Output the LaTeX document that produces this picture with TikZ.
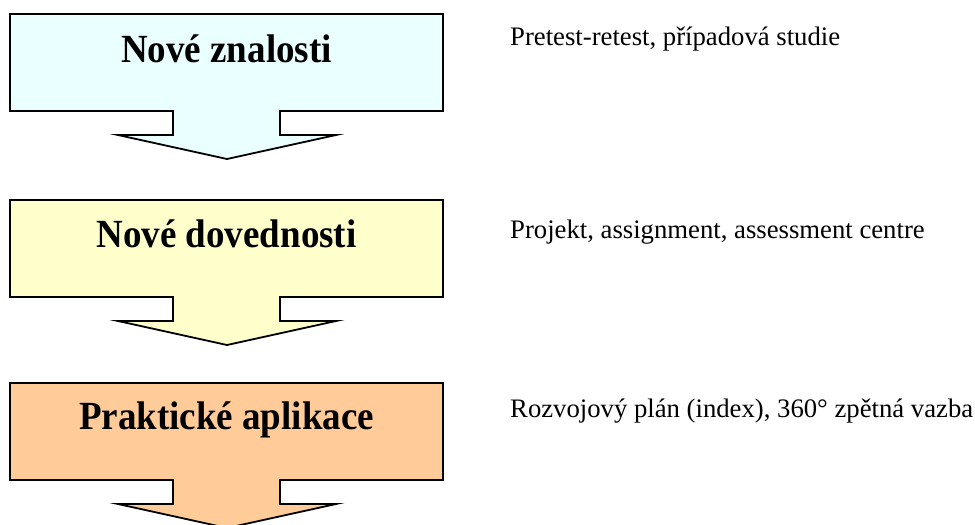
\documentclass[tikz,border=0pt]{standalone}
\usepackage{fontspec}
\setmainfont{Liberation Serif}
\definecolor{cyanfill}{HTML}{EAFFFF}
\definecolor{yellowfill}{HTML}{FFFFCC}
\definecolor{orangefill}{HTML}{FFCC99}
\newcommand{\tallbold}[1]{\scalebox{1}[1.08]{#1}}
\begin{document}
\begin{tikzpicture}[x=1pt,y=-1pt,
  callout/.style={draw=black,line width=1.8pt,line join=miter},
  title/.style={anchor=base,inner sep=0pt,font=\fontsize{37}{40}\selectfont\bfseries},
  note/.style={anchor=base west,inner sep=0pt,font=\fontsize{26.7}{30}\selectfont}]
\useasboundingbox (0,0) rectangle (975,525);
\fill[white] (0,0) rectangle (975,525);
% callout outlines
\foreach \top/\col in {14/cyanfill,200/yellowfill,383/orangefill}{
  \path[callout,fill=\col]
    (10,\top) -- (443,\top) -- (443,\top+97) -- (280,\top+97) -- (280,\top+121)
    -- (336,\top+121) -- (227,\top+145) -- (118,\top+121) -- (173,\top+121)
    -- (173,\top+97) -- (10,\top+97) -- cycle;
}
\node[title] (t1) at (226.5,62) {\tallbold{Nové znalosti}};
\node[title] (t2) at (226.5,247) {\tallbold{Nové dovednosti}};
\node[title] (t3) at (226.5,429) {\tallbold{Praktické aplikace}};
\node[note] (n1) at (510,45) {Pretest-retest, případová studie};
\node[note] (n2) at (510,238) {Projekt, assignment, assessment centre};
\node[note] (n3) at (510,417) {Rozvojový plán (index), 360° zpětná vazba};
\end{tikzpicture}
\end{document}
